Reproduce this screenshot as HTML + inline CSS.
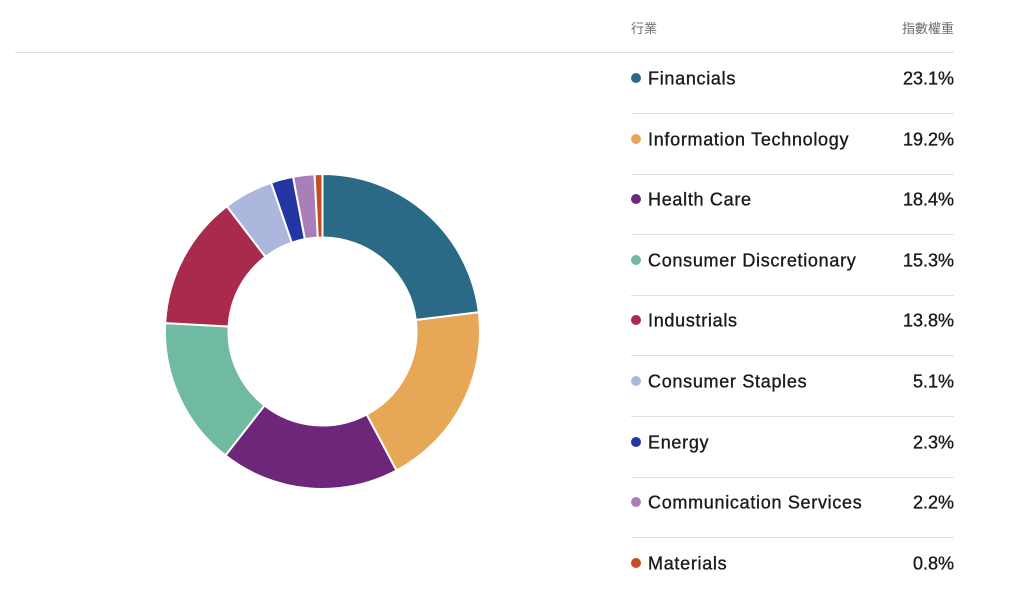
<!DOCTYPE html>
<html><head><meta charset="utf-8"><style>
body{margin:0;width:1028px;height:615px;background:#fff;overflow:hidden;font-family:"Liberation Sans","Noto Sans CJK TC",sans-serif;}
.hdr{position:absolute;top:18px;font-size:13px;color:#6b6b6b;}
.hline{position:absolute;left:15px;top:52px;width:939px;height:1px;background:#e0e0e0;}
.row{position:absolute;left:631px;width:323px;height:60px;border-bottom:1px solid #e0e0e0;}
.row .dot{position:absolute;left:0;top:20px;width:10px;height:10px;border-radius:50%;}
.row .lab{position:absolute;left:17px;top:26px;transform:translateY(-50%);font-size:18px;color:#1a1a1a;letter-spacing:0.7px;-webkit-text-stroke:0.35px #1a1a1a;white-space:nowrap;}
.row .val{position:absolute;right:0;top:26px;transform:translateY(-50%);font-size:18px;color:#1a1a1a;-webkit-text-stroke:0.35px #1a1a1a;}
svg{position:absolute;left:0;top:0;}
</style></head><body>
<div class="hdr" style="left:631px">行業</div>
<div class="hdr" style="right:74px">指數權重</div>
<div class="hline"></div>
<svg width="1028" height="615" id="s"></svg>
<div id="rows"></div>
<script>
var d=[["Financials",23.1,"#2b6a87"],["Information Technology",19.2,"#e6a857"],["Health Care",18.4,"#6d267a"],["Consumer Discretionary",15.3,"#6fbaa0"],["Industrials",13.8,"#a82a4d"],["Consumer Staples",5.1,"#adb6dd"],["Energy",2.3,"#2336a3"],["Communication Services",2.2,"#a97fb8"],["Materials",0.8,"#c44d24"]];
var tot=0;d.forEach(function(x){tot+=x[1]});
var cx=322.5,cy=331.5,R=157.5,r=94,a=0,h="";
function p(rr,t){return (cx+rr*Math.sin(t)).toFixed(2)+","+(cy-rr*Math.cos(t)).toFixed(2);}
var rows="";
d.forEach(function(x,i){
 var b=a+x[1]/tot*2*Math.PI,l=(b-a)>Math.PI?1:0;
 h+='<path d="M'+p(R,a)+' A'+R+','+R+' 0 '+l+' 1 '+p(R,b)+' L'+p(r,b)+' A'+r+','+r+' 0 '+l+' 0 '+p(r,a)+' Z" fill="'+x[2]+'" stroke="#fff" stroke-width="2"/>';
 a=b;
 var top=53+i*60.6;
 rows+='<div class="row" style="top:'+top+'px"><div class="dot" style="background:'+x[2]+'"></div><div class="lab">'+x[0]+'</div><div class="val">'+x[1].toFixed(1)+'%</div></div>';
});
document.getElementById("s").innerHTML=h;
document.getElementById("rows").innerHTML=rows;
document.querySelector("#rows .row:last-child").style.borderBottom="none";
</script>
</body></html>
